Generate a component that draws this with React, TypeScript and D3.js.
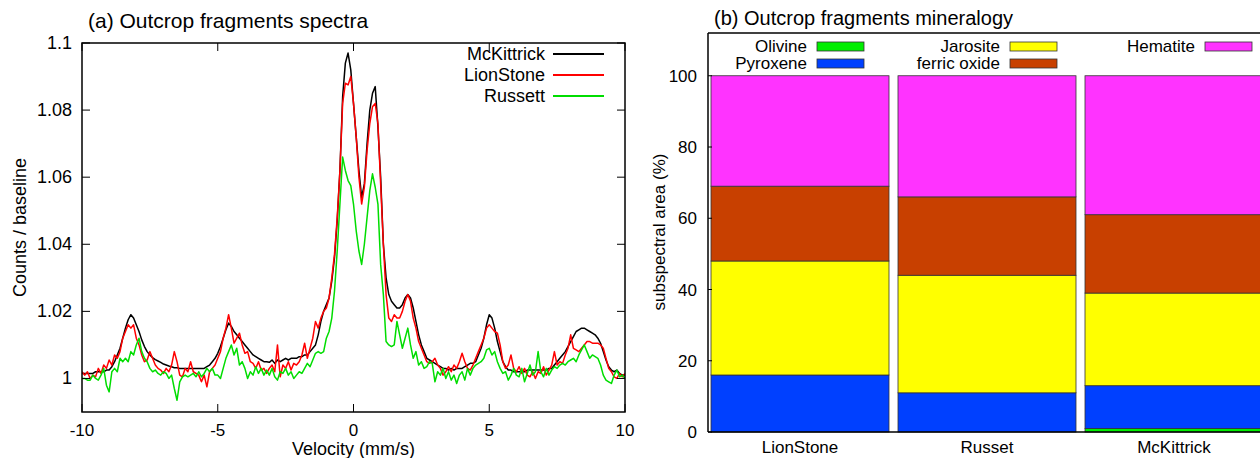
import React from 'react'
import * as d3 from 'd3'

// Mossbauer spectra, counts / baseline, read every 0.1 mm/s from -10 to +10.
// Values are stored as the excess over baseline in per mille (1.019 -> 19).
const velocityStart = -10
const velocityStep = 0.1

const mckittrick = [
  1.5, 1.5, 1.5, 1.5, 1.5, 2, 2, 2, 2, 2.5,
  2.5, 3.5, 5, 7, 9, 12, 15, 17.5, 19, 18,
  16, 14, 11.5, 9.5, 8, 7, 6.2, 5.6, 5.2, 4.8,
  4.3, 4, 3.7, 3.5, 3.2, 3.2, 3, 3, 3, 3,
  3, 3, 3, 3, 3, 3, 3.5, 4, 5, 6,
  7.5, 9.5, 12, 14.5, 16.5, 15.5, 14, 13, 12, 11,
  10, 9, 8, 7, 6.5, 6, 5.5, 5, 5, 4.8,
  5.5, 4.5, 5.5, 5, 5.5, 6, 5.5, 6, 6, 6,
  6.5, 6.5, 7, 7, 8, 9, 10, 13, 17, 20,
  22, 24, 29, 36, 47, 62, 84, 94, 97, 92,
  82, 72, 62, 54, 58, 70, 80, 85, 87, 75,
  60, 40, 30, 25, 23, 22, 21, 21, 22, 24,
  25, 24, 21, 17, 13, 10, 8, 6, 5.5, 5,
  4.5, 4, 3.5, 3, 3, 2.5, 3, 2.5, 3, 3,
  3, 3.5, 4, 4.5, 4.5, 5, 7, 9, 12, 16,
  19, 18, 15, 11, 8, 5, 3.5, 2.5, 2.5, 2,
  2, 2, 2, 2, 2.5, 2.5, 2.5, 2.5, 2.5, 2.5,
  2.5, 2.5, 3, 3, 4, 5, 6, 7, 8, 9.5,
  11, 12.5, 14, 14.5, 15, 15, 14.5, 14, 13.5, 13,
  12, 10.5, 8, 5.5, 3.5, 2.5, 2, 2.5, 1.5, 1,
  1,
]

const lionStone = [
  2, 1, 2, 0, 1, 0.5, 3, 1.5, 4, 3,
  5.5, 4, 7, 6, 8, 12, 14, 16, 15, 16,
  12, 10, 7, 5, 5.5, 8, 6, 4, 3, 2.5,
  1.5, 3, 2, 4, 8, 5, 1, 0.5, 3, 2,
  5, 2, 1.5, 1, -1, 1, -2.5, 2, 3, 4,
  6, 8, 12, 15, 19, 15, 10.5, 12, 13.5, 10,
  7.5, 8, 5, 4.5, 3, 5, 2.5, 3, 1.5, 3,
  4, 2, 10, 0.5, 4, 3, 5, 2.5, 4.5, 4,
  5, 7, 10.5, 6, 9, 12, 17, 15, 18, 20,
  21, 24, 30, 37, 48, 62, 82, 88, 87.5, 90,
  82, 72, 60, 52, 57, 68, 76, 81, 82, 76,
  58, 40, 25, 18, 17, 19, 18, 18, 20, 23,
  25, 23, 18, 15, 11, 9, 7, 5, 4.5, 5,
  6, 4, 3, 1, 2, 3.5, 2, 4, 3, 5,
  7.5, 5, 3, 2.5, 4, 6, 8, 10, 12, 15,
  16, 15, 14, 13.5, 10, 5, 3, 4, 7, 3,
  2, 3.5, 1.5, 3, 1, 0.5, 2, 0, 2, 1.5,
  3.5, 1, 2.5, 4, 8, 4, 5, 4.5, 7, 9,
  13, 9, 8.5, 8, 9, 10, 11, 11, 10.5, 10.5,
  10.5, 10, 9, 6, 3, 2, 0.5, 0, 1.5, 0.5,
  1.5,
]

const russett = [
  0, 0, -0.5, -0.5, 1, 0, -0.5, 1, 3, -2,
  -4, 2, 3, 2, 6, 5, 6, 5, 8, 7,
  10, 12, 8, 6, 5, 3, 2, 2.5, 1.5, 1,
  2, 1.5, 0, 1, -3, -6.5, -1, 0.5, 1, 0.5,
  1, 1.5, 0.5, 2, 0.5, 1.5, 3, 2, 3, 1,
  1, 0, 3, 6, 8, 10, 7, 9, 4, 5,
  3, 0, 2, 1, 3.5, 1.5, 3, 1, 2.5, 1,
  3, 0.5, -0.5, 2, 1.5, 3, 1, 2, 0, 1,
  2, 1.5, 3, 4.5, 3.5, 5.5, 7.5, 8, 7.5, 8,
  12, 14, 18, 26, 38, 52, 66, 62, 59, 57.5,
  52, 44, 38, 34, 40, 48, 56, 61, 57, 52,
  34, 25, 11, 10, 9.5, 10, 17, 13, 9, 12,
  15, 10, 6, 8, 4, 5, 3, 3.5, 5, 4.5,
  -1, 2, 1, 3, 0, 2, -0.5, 1, -1.5, 1,
  2, -0.5, 3, 1, 3, 4, 4.5, 5, 6, 8.5,
  9, 7, 8, 5, 3, 1.5, 2, -0.5, 1, 3,
  1, 0.5, 3, -1, 1.5, 4, 1, 2, 8, 2,
  0.5, 3, 1, 2.5, 3.5, 3, 4, 4.5, 4, 5,
  5.5, 6, 5, 7, 8.5, 10, 8, 6, 7, 6.5,
  6, 4, 1, -0.5, -1, -1.5, 1, 2.5, 0.5, 1,
  0,
]

const spectra = [
  { name: 'McKittrick', values: mckittrick, color: '#000000' },
  { name: 'LionStone', values: lionStone, color: '#ff0000' },
  { name: 'Russett', values: russett, color: '#00dd00' },
]

const velocityTicks = [-10, -5, 0, 5, 10]
const countTicks = [1, 1.02, 1.04, 1.06, 1.08, 1.1]

// mineralogy, subspectral area (%)
const fragments = ['LionStone', 'Russet', 'McKittrick']
const olivine = [0, 0, 1]
const pyroxene = [16, 11, 12]
const jarosite = [32, 33, 26]
const ferricOxide = [21, 22, 22]
const hematite = [31, 34, 39]
const areaTicks = [0, 20, 40, 60, 80, 100]

const minerals = [
  { key: 'Olivine', values: olivine, color: '#00ee00' },
  { key: 'Pyroxene', values: pyroxene, color: '#0040ff' },
  { key: 'Jarosite', values: jarosite, color: '#ffff00' },
  { key: 'ferric oxide', values: ferricOxide, color: '#c84000' },
  { key: 'Hematite', values: hematite, color: '#ff33ff' },
]

const font = '"Liberation Sans", Arial, Helvetica, sans-serif'

const SpectraPlot = () => {
  const x = d3.scaleLinear().domain([-10, 10]).range([82, 625])
  const y = d3.scaleLinear().domain([0.99, 1.1]).range([412, 43])
  const line = d3
    .line<number>()
    .x((_, i) => x(velocityStart + i * velocityStep))
    .y((v) => y(1 + v / 1000))

  const [x0, x1] = x.range()
  const [y0, y1] = y.range()
  const tick = 8

  return (
    <g fontFamily={font}>
      <text x={88} y={28} fontSize={21}>(a) Outcrop fragments spectra</text>
      <g clipPath="url(#spectraClip)">
        {spectra.map((s) => (
          <path key={s.name} d={line(s.values) || ''} fill="none" stroke={s.color} strokeWidth={1.5} strokeLinejoin="round" />
        ))}
      </g>
      <rect x={x0} y={y1} width={x1 - x0} height={y0 - y1} fill="none" stroke="#000" strokeWidth={1.5} />
      {velocityTicks.map((t) => (
        <g key={t}>
          <line x1={x(t)} x2={x(t)} y1={y0} y2={y0 - tick} stroke="#000" />
          <line x1={x(t)} x2={x(t)} y1={y1} y2={y1 + tick} stroke="#000" />
          <text x={x(t)} y={y0 + 24} fontSize={17} textAnchor="middle">{t}</text>
        </g>
      ))}
      {countTicks.map((t) => (
        <g key={t}>
          <line x1={x0} x2={x0 + tick} y1={y(t)} y2={y(t)} stroke="#000" />
          <line x1={x1} x2={x1 - tick} y1={y(t)} y2={y(t)} stroke="#000" />
          <text x={x0 - 10} y={y(t) + 6} fontSize={18} textAnchor="end">{String(+t.toFixed(2))}</text>
        </g>
      ))}
      <text x={(x0 + x1) / 2} y={455} fontSize={18} textAnchor="middle">Velocity (mm/s)</text>
      <text transform={`translate(26,${(y0 + y1) / 2}) rotate(-90)`} fontSize={18} textAnchor="middle">Counts / baseline</text>
      {spectra.map((s, i) => (
        <g key={s.name} transform={`translate(0,${54 + i * 21})`}>
          <text x={545} y={6} fontSize={18} textAnchor="end">{s.name}</text>
          <line x1={553} x2={604} y1={0} y2={0} stroke={s.color} strokeWidth={2} />
        </g>
      ))}
    </g>
  )
}

const MineralogyPlot = () => {
  const x = d3.scaleBand<string>().domain(fragments).range([711, 1263]).paddingInner(9 / 187)
  const y = d3.scaleLinear().domain([0, 112]).range([432, 33])
  const table = fragments.map((f, i) => {
    const row: Record<string, number | string> = { fragment: f }
    minerals.forEach((m) => (row[m.key] = m.values[i]))
    return row
  })
  const stack = d3.stack<Record<string, number | string>>().keys(minerals.map((m) => m.key))
  const layers = stack(table as any)
  const legendSlots = [
    { x: 807, y: 46 },
    { x: 807, y: 63 },
    { x: 1000, y: 46 },
    { x: 1000, y: 63 },
    { x: 1195, y: 46 },
  ]

  return (
    <g fontFamily={font}>
      <text x={714} y={25} fontSize={20}>(b) Outcrop fragments mineralogy</text>
      {layers.map((layer, li) => (
        <g key={layer.key} fill={minerals[li].color}>
          {layer.map((d, i) =>
            d[1] - d[0] > 0 ? (
              <rect
                key={fragments[i]}
                x={x(fragments[i])}
                y={y(d[1])}
                width={x.bandwidth()}
                height={y(d[0]) - y(d[1])}
                stroke="#333"
                strokeWidth={0.8}
              />
            ) : null
          )}
        </g>
      ))}
      <line x1={708} x2={1260} y1={33} y2={33} stroke="#000" strokeWidth={1.5} />
      <line x1={708} x2={708} y1={33} y2={432} stroke="#000" strokeWidth={1.5} />
      <line x1={708} x2={1260} y1={432} y2={432} stroke="#000" strokeWidth={1.5} />
      {areaTicks.map((t) => (
        <g key={t}>
          <line x1={708} x2={712} y1={y(t)} y2={y(t)} stroke="#000" />
          <text x={697} y={y(t) + 6} fontSize={17} textAnchor="end">{t}</text>
        </g>
      ))}
      {fragments.map((f) => (
        <text key={f} x={(x(f) || 0) + x.bandwidth() / 2} y={453} fontSize={17} textAnchor="middle">{f}</text>
      ))}
      <text transform={`translate(665,232) rotate(-90)`} fontSize={17} textAnchor="middle">subspectral area (%)</text>
      {minerals.map((m, i) => (
        <g key={m.key} transform={`translate(${legendSlots[i].x},${legendSlots[i].y})`}>
          <text x={0} y={6} fontSize={17} textAnchor="end">{m.key}</text>
          <rect x={10} y={-4} width={47} height={9} fill={m.color} stroke="#333" strokeWidth={0.8} />
        </g>
      ))}
    </g>
  )
}

export default function App() {
  return (
    <svg width={1260} height={458} style={{ position: 'absolute', left: 0, top: 0, background: '#fff' }}>
      <defs>
        <clipPath id="spectraClip">
          <rect x={82} y={43} width={543} height={369} />
        </clipPath>
      </defs>
      <rect width={1260} height={458} fill="#fff" />
      <SpectraPlot />
      <MineralogyPlot />
    </svg>
  )
}
